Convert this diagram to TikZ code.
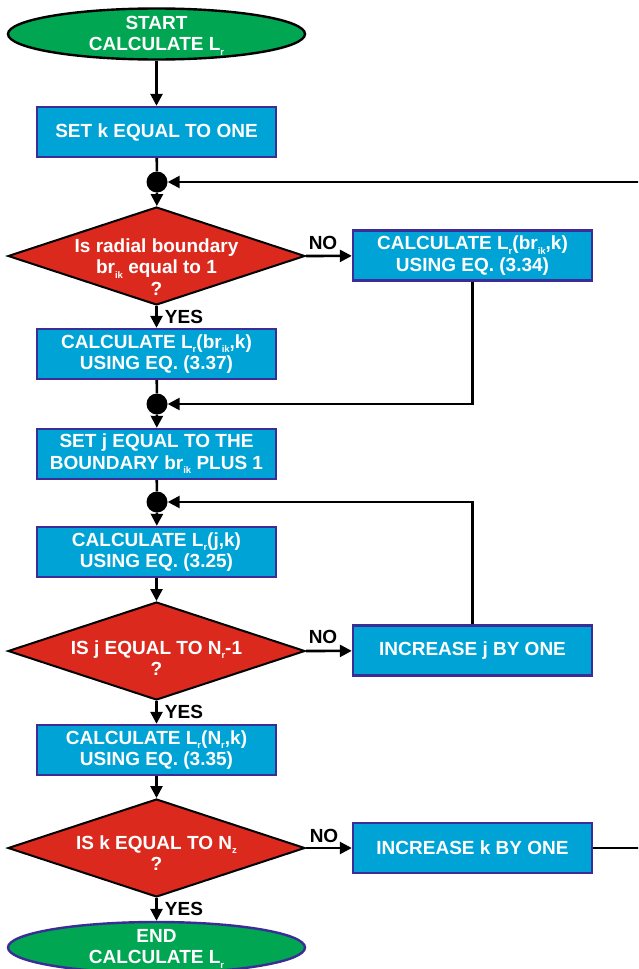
\documentclass[tikz,border=0pt]{standalone}
\usepackage{fontspec}
\setmainfont{Liberation Sans}
\usetikzlibrary{shapes.geometric,arrows.meta}

\definecolor{boxfill}{RGB}{0,163,214}
\definecolor{boxline}{RGB}{59,45,150}
\definecolor{decfill}{RGB}{220,41,30}
\definecolor{termfill}{RGB}{0,166,81}

% small lowered index, as in L_r or br_ik
\newcommand\lo[1]{\raisebox{-0.45ex}{\fontsize{9.5}{9.5}\selectfont #1}}
\newcommand\flowfont{\fontsize{19}{21.5}\selectfont\bfseries}

\tikzset{
  process/.style={rectangle, draw=boxline, fill=boxfill, line width=2.4pt,
    minimum width=239pt, minimum height=50pt, inner sep=0pt,
    text=white, font=\flowfont, align=center},
  decision/.style={diamond, draw=black, fill=decfill, line width=2pt,
    minimum width=297pt, minimum height=98pt, inner sep=0pt},
  shapetext/.style={text=white, font=\flowfont, align=center, inner sep=0pt},
  terminal/.style={ellipse, fill=termfill, line width=2.4pt,
    minimum width=297pt, minimum height=51pt, inner sep=0pt},
  junction/.style={circle, fill=black, minimum size=21pt, inner sep=0pt},
  answer/.style={text=black, font=\flowfont, inner sep=0pt},
  link/.style={line width=2.6pt},
  arr/.style={link, -{Triangle[length=12pt,width=12pt]}},
}

\begin{document}
\begin{tikzpicture}[x=1pt,y=-1pt]
\clip (0,0) rectangle (638,969);
\fill[white] (0,0) rectangle (638,969);

% main column
\node[terminal, draw=black] (start) at (156.5,34) {};
\node[shapetext] (startt) at (156.5,35.5) {START\\CALCULATE L\lo{r}};
\node[process] (setk) at (156.5,132) {SET k EQUAL TO ONE};
\node[junction] (jk) at (157,182) {};
\node[decision] (d1) at (156.5,256) {};
\node[shapetext] (d1t) at (156.5,267) {Is radial boundary\\br\lo{ik} equal to 1\\?};
\node[process] (eq34) at (472.5,255.5) {CALCULATE L\lo{r}(br\lo{ik},k)\\USING EQ. (3.34)};
\node[process] (eq37) at (156.5,354) {CALCULATE L\lo{r}(br\lo{ik},k)\\USING EQ. (3.37)};
\node[junction] (jb) at (157,404) {};
\node[process] (setj) at (156.5,454) {SET j EQUAL TO THE\\BOUNDARY br\lo{ik} PLUS 1};
\node[junction] (jj) at (157,502) {};
\node[process] (eq25) at (156.5,552) {CALCULATE L\lo{r}(j,k)\\USING EQ. (3.25)};
\node[decision] (d2) at (156.5,651) {};
\node[shapetext] (d2t) at (156.5,658) {IS j EQUAL TO N\lo{r}-1\\?};
\node[process] (incj) at (472.5,650.5) {INCREASE j BY ONE};
\node[process] (eq35) at (156.5,750) {CALCULATE L\lo{r}(N\lo{r},k)\\USING EQ. (3.35)};
\node[decision] (d3) at (156.5,848) {};
\node[shapetext] (d3t) at (156.5,853) {IS k EQUAL TO N\lo{z}\\?};
\node[process] (inck) at (472.5,848) {INCREASE k BY ONE};
\node[terminal, draw=boxline] (stop) at (156.5,947.5) {};
\node[shapetext] (stopt) at (156.5,948.5) {END\\CALCULATE L\lo{r}};

% branch labels
\node[answer] (no1) at (323,243) {NO};
\node[answer] (yes1) at (184,317) {YES};
\node[answer] (no2) at (323,637) {NO};
\node[answer] (yes2) at (184,712) {YES};
\node[answer] (no3) at (324,836) {NO};
\node[answer] (yes3) at (184,909) {YES};

% return path of the k loop, running past the right edge
\coordinate (kout) at (650,848);

% connectors
\draw[arr] (start) -- (setk);
\draw[link] (setk) -- (jk);
\draw[arr] (jk) -- (d1);
\draw[arr] (d1.east) -- (eq34);
\draw[arr] (d1.south) -- (eq37);
\draw[link] (eq37) -- (jb);
\draw[arr] (eq34) |- (jb);
\draw[arr] (jb) -- (setj);
\draw[link] (setj) -- (jj);
\draw[arr] (jj) -- (eq25);
\draw[arr] (eq25) -- (d2);
\draw[arr] (d2.east) -- (incj);
\draw[arr] (incj) |- (jj);
\draw[arr] (d2.south) -- (eq35);
\draw[arr] (eq35) -- (d3);
\draw[arr] (d3.east) -- (inck);
\draw[arr] (inck) -- (kout) |- (jk);
\draw[arr] (d3.south) -- (stop);
\end{tikzpicture}
\end{document}
